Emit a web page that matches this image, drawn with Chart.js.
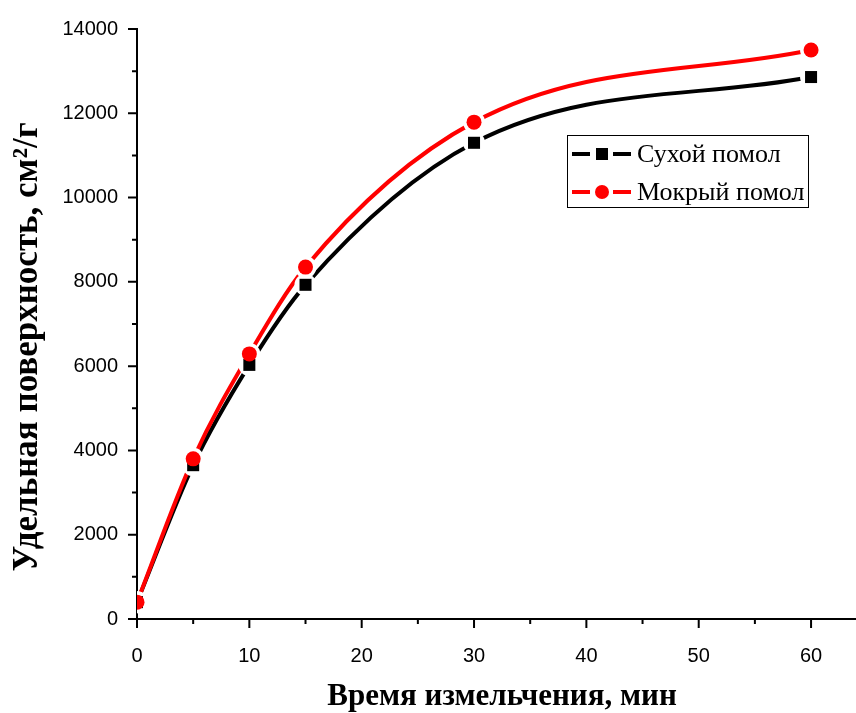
<!DOCTYPE html>
<html>
<head>
<meta charset="utf-8">
<script src="https://cdn.jsdelivr.net/npm/chart.js@4.4.1/dist/chart.umd.min.js"></script>
<style>
  html, body { margin: 0; padding: 0; background: #fff; overflow: hidden; }
  #wrap { width: 867px; height: 713px; position: relative; }
  canvas { display: block; }
</style>
</head>
<body>
<div id="wrap"><canvas id="c"></canvas></div>
<script>
const times = [0, 5, 10, 15, 30, 60];
const dryValues = [400, 3650, 6030, 7930, 11300, 12860];
const wetValues = [400, 3800, 6290, 8350, 11790, 13500];
const seriesNames = ['Сухой помол', 'Мокрый помол'];
const xTitle = 'Время измельчения, мин';
const yTitle = 'Удельная поверхность, см²/г';
const xTickLabels = [0, 10, 20, 30, 40, 50, 60];
const yTickLabels = [0, 2000, 4000, 6000, 8000, 10000, 12000, 14000];

const pts = vals => times.map((t, i) => ({ x: t, y: vals[i] }));

// minor + major ticks drawn by hand (Origin style), titles, legend box
const originAxes = {
  id: 'originAxes',
  afterDatasetsDraw(chart) {
    const { ctx, chartArea: a, scales: { x, y } } = chart;
    ctx.save();
    ctx.strokeStyle = '#000';
    ctx.lineWidth = 2;
    ctx.beginPath();
    for (let v = 0; v <= 60; v += 5) {
      const px = x.getPixelForValue(v);
      const len = v % 10 === 0 ? 9 : 5;
      ctx.moveTo(px, a.bottom); ctx.lineTo(px, a.bottom + len);
    }
    for (let v = 0; v <= 14000; v += 1000) {
      const py = y.getPixelForValue(v);
      const len = v % 2000 === 0 ? 9 : 5;
      ctx.moveTo(a.left, py); ctx.lineTo(a.left - len, py);
    }
    ctx.stroke();

    // axis titles
    ctx.fillStyle = '#000';
    ctx.textAlign = 'center';
    ctx.textBaseline = 'middle';
    ctx.font = 'bold 31px "Liberation Serif"';
    ctx.fillText(xTitle, 502, 697);
    ctx.save();
    ctx.translate(28, 347);
    ctx.rotate(-Math.PI / 2);
    ctx.font = 'bold 35px "Liberation Serif"';
    ctx.fillText(yTitle, 0, 0);
    ctx.restore();

    // legend
    ctx.textAlign = 'left';
    const bx = 567, by = 135, bw = 241, bh = 72;
    ctx.fillStyle = '#fff';
    ctx.fillRect(bx, by, bw, bh);
    ctx.lineWidth = 1;
    ctx.strokeRect(bx + 0.5, by + 0.5, bw, bh);
    const rows = [
      { c: '#000', shape: 'rect', yy: 154 },
      { c: '#ff0000', shape: 'circle', yy: 192 }
    ];
    rows.forEach((r, i) => {
      ctx.strokeStyle = r.c;
      ctx.fillStyle = r.c;
      ctx.lineWidth = 4;
      ctx.beginPath();
      ctx.moveTo(572, r.yy); ctx.lineTo(590, r.yy);
      ctx.moveTo(613, r.yy); ctx.lineTo(631, r.yy);
      ctx.stroke();
      if (r.shape === 'rect') ctx.fillRect(596, r.yy - 6, 12, 12);
      else { ctx.beginPath(); ctx.arc(602, r.yy, 7, 0, Math.PI * 2); ctx.fill(); }
      ctx.fillStyle = '#000';
      ctx.font = '26px "Liberation Serif"';
      ctx.fillText(seriesNames[i], 637, r.yy + 1);
    });
    ctx.restore();
  }
};

new Chart(document.getElementById('c'), {
  type: 'scatter',
  data: {
    datasets: [
      { label: seriesNames[1], data: pts(wetValues), showLine: false,
        pointStyle: 'circle', pointRadius: 7.5, pointBackgroundColor: '#ff0000', pointBorderWidth: 0 },
      { label: seriesNames[0], data: pts(dryValues), showLine: false,
        pointStyle: 'rect', pointRadius: 8.5, pointBackgroundColor: '#000', pointBorderWidth: 0 },
      { label: 'halo', data: pts(wetValues).concat(pts(dryValues)), showLine: false,
        pointRadius: 11, pointBackgroundColor: '#fff', pointBorderWidth: 0 },
      { label: 'wetLine', data: pts(wetValues), showLine: true, pointRadius: 0,
        borderColor: '#ff0000', borderWidth: 4, cubicInterpolationMode: 'monotone' },
      { label: 'dryLine', data: pts(dryValues), showLine: true, pointRadius: 0,
        borderColor: '#000', borderWidth: 4, cubicInterpolationMode: 'monotone' }
    ]
  },
  options: {
    responsive: true,
    maintainAspectRatio: false,
    animation: false,
    events: [],
    layout: { padding: { top: 29, right: 2, left: 0, bottom: 0 } },
    plugins: { legend: { display: false }, tooltip: { enabled: false } },
    scales: {
      x: {
        type: 'linear', min: 0, max: 64,
        afterBuildTicks: s => { s.ticks = xTickLabels.map(v => ({ value: v })); },
        grid: { display: false },
        border: { display: true, color: '#000', width: 2 },
        ticks: { color: '#000', font: { family: 'Liberation Sans', size: 20 }, padding: 17, maxRotation: 0 },
        afterFit: s => { s.height = 94; }
      },
      y: {
        type: 'linear', min: 0, max: 14000,
        afterBuildTicks: s => { s.ticks = yTickLabels.map(v => ({ value: v })); },
        grid: { display: false },
        border: { display: true, color: '#000', width: 2 },
        ticks: { color: '#000', font: { family: 'Liberation Sans', size: 20 }, padding: 11,
          callback: v => String(v) },
        afterFit: s => { s.width = 137; }
      }
    }
  },
  plugins: [originAxes]
});
</script>
</body>
</html>
